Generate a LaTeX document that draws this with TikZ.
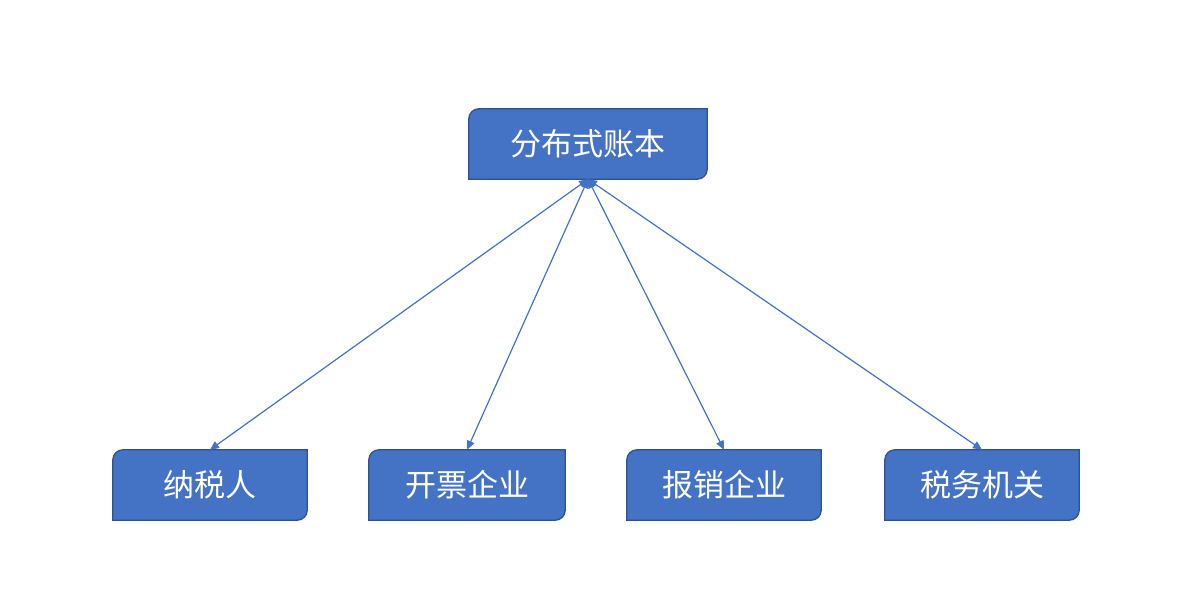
\documentclass[tikz,border=0pt]{standalone}
\usepackage{fontspec}
\newfontfamily\cjk{Noto Sans CJK SC}
\usetikzlibrary{arrows.meta}
\definecolor{bfill}{HTML}{4472C4}
\definecolor{bline}{HTML}{2F528F}
\tikzset{
  bx/.style={draw=none,minimum height=70pt,inner sep=0pt,font=\cjk\fontsize{31}{36}\selectfont,text=white},
  shp/.style={fill=bfill,draw=bline,line width=1.3pt},
  conn/.style={draw=bfill,line width=1.2pt,{Triangle[length=9pt,width=8pt]}-{Triangle[length=9pt,width=8pt]}}
}
\newcommand{\mybox}[1]{%
  \path[shp] (#1.west) [rounded corners=10pt] -- (#1.north west) -- (#1.north) [sharp corners] -- (#1.north east) -- (#1.east) [rounded corners=10pt] -- (#1.south east) -- (#1.south) [sharp corners] -- (#1.south west) -- cycle;
  \node[bx,minimum width=0pt,draw=none] at (#1.center) {\csname txt#1\endcsname};}
\begin{document}
\begin{tikzpicture}[x=1pt,y=-1pt]
\useasboundingbox (0,0) rectangle (1188,612);
\node[bx,minimum width=238pt] (top) at (588,144) {};
\node[bx,minimum width=194pt] (a) at (210,485) {};
\node[bx,minimum width=196pt] (b) at (467,485) {};
\node[bx,minimum width=194pt] (c) at (724,485) {};
\node[bx,minimum width=194pt] (d) at (982,485) {};
\def\txttop{分布式账本}\def\txta{纳税人}\def\txtb{开票企业}\def\txtc{报销企业}\def\txtd{税务机关}
\mybox{top}\mybox{a}\mybox{b}\mybox{c}\mybox{d}
\draw[conn] (top.south) -- (a.north);
\draw[conn] (top.south) -- (b.north);
\draw[conn] (top.south) -- (c.north);
\draw[conn] (top.south) -- (d.north);
\end{tikzpicture}
\end{document}
